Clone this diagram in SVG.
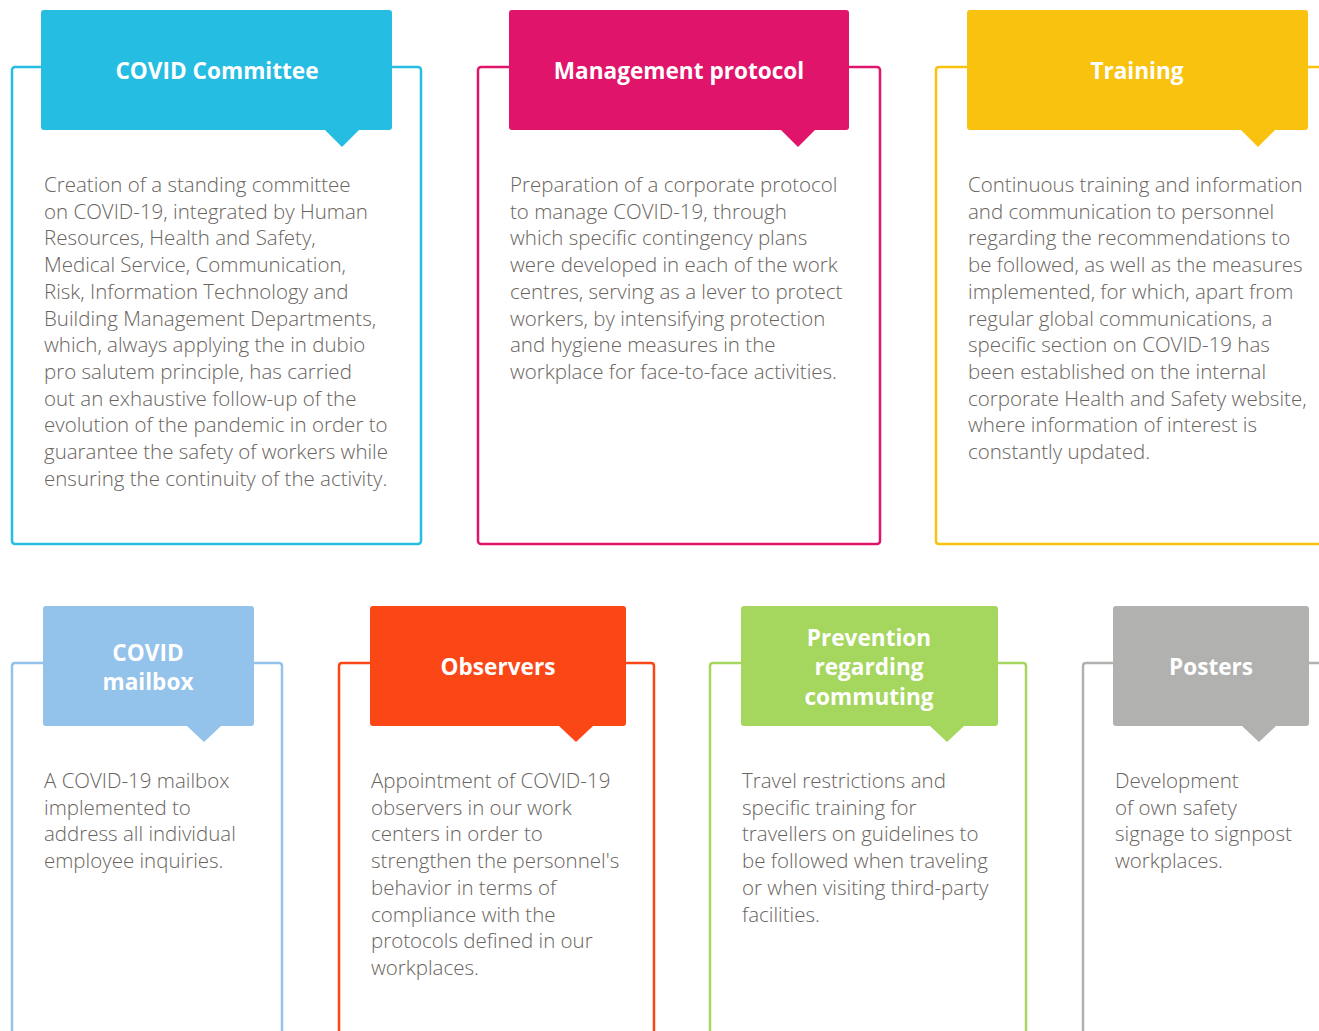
<svg xmlns="http://www.w3.org/2000/svg" width="1319" height="1031" viewBox="0 0 1319 1031">
<style>
.frame{fill:none;stroke-width:2.5}
.hdr{stroke:none}
.title{font-family:"Open Sans","Liberation Sans",sans-serif;font-weight:700;font-size:22.6px;fill:#fff;text-anchor:middle}
.body{font-family:"Open Sans","Liberation Sans",sans-serif;font-weight:300;font-size:20.5px;fill:#69645e}
</style>
<rect width="1319" height="1031" fill="#fff"/>
<g id="covid-committee">
<rect class="frame" x="12" y="67" width="409" height="477" rx="3" stroke="#26BDE2"/>
<rect class="hdr" x="41" y="10" width="351" height="120" rx="3" fill="#26BDE2"/>
<polygon points="325,130 359,130 342,147" fill="#26BDE2"/>
<text class="title" x="217" y="79">COVID Committee</text>
<text class="body" x="44" y="192"><tspan x="44">Creation of a standing committee</tspan><tspan x="44" dy="26.7">on COVID-19, integrated by Human</tspan><tspan x="44" dy="26.7">Resources, Health and Safety,</tspan><tspan x="44" dy="26.7">Medical Service, Communication,</tspan><tspan x="44" dy="26.7">Risk, Information Technology and</tspan><tspan x="44" dy="26.7">Building Management Departments,</tspan><tspan x="44" dy="26.7">which, always applying the in dubio</tspan><tspan x="44" dy="26.7">pro salutem principle, has carried</tspan><tspan x="44" dy="26.7">out an exhaustive follow-up of the</tspan><tspan x="44" dy="26.7">evolution of the pandemic in order to</tspan><tspan x="44" dy="26.7">guarantee the safety of workers while</tspan><tspan x="44" dy="26.7">ensuring the continuity of the activity.</tspan></text>
</g>
<g id="management-protocol">
<rect class="frame" x="478" y="67" width="402" height="477" rx="3" stroke="#E0146A"/>
<rect class="hdr" x="509" y="10" width="340" height="120" rx="3" fill="#E0146A"/>
<polygon points="781,130 815,130 798,147" fill="#E0146A"/>
<text class="title" x="679" y="79">Management protocol</text>
<text class="body" x="510" y="192"><tspan x="510">Preparation of a corporate protocol</tspan><tspan x="510" dy="26.7">to manage COVID-19, through</tspan><tspan x="510" dy="26.7">which specific contingency plans</tspan><tspan x="510" dy="26.7">were developed in each of the work</tspan><tspan x="510" dy="26.7">centres, serving as a lever to protect</tspan><tspan x="510" dy="26.7">workers, by intensifying protection</tspan><tspan x="510" dy="26.7">and hygiene measures in the</tspan><tspan x="510" dy="26.7">workplace for face-to-face activities.</tspan></text>
</g>
<g id="training">
<path class="frame" d="M1330,67 H939 Q936,67 936,70 V541 Q936,544 939,544 H1330" stroke="#F9C20F"/>
<rect class="hdr" x="967" y="10" width="341" height="120" rx="3" fill="#F9C20F"/>
<polygon points="1241,130 1275,130 1258,147" fill="#F9C20F"/>
<text class="title" x="1137" y="79">Training</text>
<text class="body" x="968" y="192"><tspan x="968">Continuous training and information</tspan><tspan x="968" dy="26.7">and communication to personnel</tspan><tspan x="968" dy="26.7">regarding the recommendations to</tspan><tspan x="968" dy="26.7">be followed, as well as the measures</tspan><tspan x="968" dy="26.7">implemented, for which, apart from</tspan><tspan x="968" dy="26.7">regular global communications, a</tspan><tspan x="968" dy="26.7">specific section on COVID-19 has</tspan><tspan x="968" dy="26.7">been established on the internal</tspan><tspan x="968" dy="26.7">corporate Health and Safety website,</tspan><tspan x="968" dy="26.7">where information of interest is</tspan><tspan x="968" dy="26.7">constantly updated.</tspan></text>
</g>
<g id="covid-mailbox">
<path class="frame" d="M12,1040 V666 Q12,663 15,663 H279 Q282,663 282,666 V1040" stroke="#93C2EA"/>
<rect class="hdr" x="43" y="606" width="211" height="120" rx="3" fill="#93C2EA"/>
<polygon points="187,726 221,726 204,742" fill="#93C2EA"/>
<text class="title" x="148" y="661">COVID</text>
<text class="title" x="148" y="690">mailbox</text>
<text class="body" x="44" y="788"><tspan x="44">A COVID-19 mailbox</tspan><tspan x="44" dy="26.7">implemented to</tspan><tspan x="44" dy="26.7">address all individual</tspan><tspan x="44" dy="26.7">employee inquiries.</tspan></text>
</g>
<g id="observers">
<path class="frame" d="M339,1040 V666 Q339,663 342,663 H651 Q654,663 654,666 V1040" stroke="#FB4616"/>
<rect class="hdr" x="370" y="606" width="256" height="120" rx="3" fill="#FB4616"/>
<polygon points="559,726 593,726 576,742" fill="#FB4616"/>
<text class="title" x="498" y="675">Observers</text>
<text class="body" x="371" y="788"><tspan x="371">Appointment of COVID-19</tspan><tspan x="371" dy="26.7">observers in our work</tspan><tspan x="371" dy="26.7">centers in order to</tspan><tspan x="371" dy="26.7">strengthen the personnel's</tspan><tspan x="371" dy="26.7">behavior in terms of</tspan><tspan x="371" dy="26.7">compliance with the</tspan><tspan x="371" dy="26.7">protocols defined in our</tspan><tspan x="371" dy="26.7">workplaces.</tspan></text>
</g>
<g id="prevention-commuting">
<path class="frame" d="M710,1040 V666 Q710,663 713,663 H1023 Q1026,663 1026,666 V1040" stroke="#A5D65E"/>
<rect class="hdr" x="741" y="606" width="257" height="120" rx="3" fill="#A5D65E"/>
<polygon points="930,726 964,726 947,742" fill="#A5D65E"/>
<text class="title" x="869" y="646">Prevention</text>
<text class="title" x="869" y="675">regarding</text>
<text class="title" x="869" y="705">commuting</text>
<text class="body" x="742" y="788"><tspan x="742">Travel restrictions and</tspan><tspan x="742" dy="26.7">specific training for</tspan><tspan x="742" dy="26.7">travellers on guidelines to</tspan><tspan x="742" dy="26.7">be followed when traveling</tspan><tspan x="742" dy="26.7">or when visiting third-party</tspan><tspan x="742" dy="26.7">facilities.</tspan></text>
</g>
<g id="posters">
<path class="frame" d="M1083,1040 V666 Q1083,663 1086,663 H1330" stroke="#B1B1AF"/>
<rect class="hdr" x="1113" y="606" width="196" height="120" rx="3" fill="#B1B1AF"/>
<polygon points="1242,726 1276,726 1259,742" fill="#B1B1AF"/>
<text class="title" x="1211" y="675">Posters</text>
<text class="body" x="1115" y="788"><tspan x="1115">Development</tspan><tspan x="1115" dy="26.7">of own safety</tspan><tspan x="1115" dy="26.7">signage to signpost</tspan><tspan x="1115" dy="26.7">workplaces.</tspan></text>
</g>
<g id="connectors"></g>
</svg>
